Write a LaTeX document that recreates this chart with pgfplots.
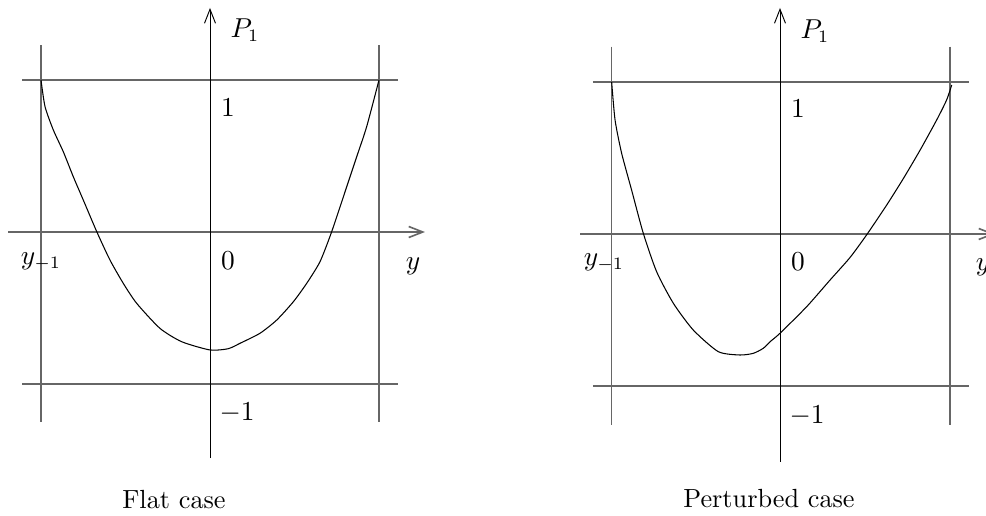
\documentclass[border=0pt]{standalone}
\usepackage{pgfplots}
\pgfplotsset{compat=1.18}
\usetikzlibrary{arrows.meta}

\pgfplotsset{
  sketch/.style={
    hide axis, clip=false, anchor=origin,
    x=67.6pt, y=60.8pt,
    xmin=-1.2, xmax=1.3, ymin=-1.5, ymax=1.5,
  },
  frame line/.style={black!60, line width=0.65pt},
  axis arrow/.style={-{Straight Barb[length=5.6pt,width=4.4pt]}},
  curve/.style={black, line width=0.42pt, smooth, tension=0.4},
}

\begin{document}
\begin{tikzpicture}[font=\fontsize{10.5}{12.6}\selectfont]
\useasboundingbox (0pt,0pt) rectangle (394.4pt,-206.4pt);

% ---------- flat case ----------
\begin{axis}[sketch, at={(84pt,-92.8pt)}]
  \addplot[frame line] coordinates {(-1.112,1) (1.112,1)};
  \addplot[frame line] coordinates {(-1.112,-1) (1.112,-1)};
  \addplot[frame line] coordinates {(-1,1.23) (-1,-1.25)};
  \addplot[frame line] coordinates {(1,1.23) (1,-1.25)};
  \addplot[frame line, axis arrow] coordinates {(-1.195,0) (1.272,0)};
  \addplot[black, line width=0.38pt, axis arrow] coordinates {(0,-1.487) (0,1.474)};
  \addplot[curve] coordinates {
    (-1,1) (-0.976,0.824) (-0.927,0.671) (-0.868,0.528) (-0.809,0.364)
    (-0.750,0.211) (-0.670,0.002) (-0.592,-0.184) (-0.513,-0.338)
    (-0.434,-0.469) (-0.296,-0.634) (-0.167,-0.722) (0,-0.776)
    (0.107,-0.768) (0.178,-0.732) (0.296,-0.666) (0.395,-0.579)
    (0.493,-0.459) (0.572,-0.338) (0.651,-0.195) (0.720,0.002)
    (0.809,0.298) (0.868,0.495) (0.927,0.693) (1,1)};
  \node at (axis cs:0.207,1.329) {$P_1$};
  \node at (axis cs:0.107,0.816) {$1$};
  \node at (axis cs:0.107,-0.191) {$0$};
  \node at (axis cs:0.160,-1.191) {$-1$};
  \node at (axis cs:1.201,-0.224) {$y$};
  \node at (axis cs:-1,-0.197) {$y_{-1}$};
  \node at (axis cs:-0.213,-1.757) {Flat case};
\end{axis}

% ---------- perturbed case ----------
\begin{axis}[sketch, at={(312pt,-93.6pt)}]
  \addplot[frame line] coordinates {(-1.107,1) (1.118,1)};
  \addplot[frame line] coordinates {(-1.107,-1) (1.118,-1)};
  \addplot[frame line] coordinates {(-0.996,1.232) (-0.996,-1.257)};
  \addplot[frame line] coordinates {(1.006,1.232) (1.006,-1.257)};
  \addplot[frame line, axis arrow] coordinates {(-1.183,0) (1.272,0)};
  \addplot[black, line width=0.38pt, axis arrow] coordinates {(0,-1.498) (0,1.487)};
  \addplot[curve] coordinates {
    (-0.996,1) (-0.976,0.75) (-0.937,0.531) (-0.878,0.289) (-0.809,0.005)
    (-0.730,-0.248) (-0.631,-0.456) (-0.513,-0.632) (-0.365,-0.774)
    (-0.237,-0.796) (-0.158,-0.785) (-0.099,-0.752) (-0.059,-0.709)
    (0,-0.653) (0.158,-0.478) (0.296,-0.303) (0.414,-0.155) (0.513,-0.005)
    (0.631,0.190) (0.730,0.365) (0.828,0.550) (0.927,0.750)
    (0.986,0.882) (1.016,0.980)};
  \node at (axis cs:0.207,1.336) {$P_1$};
  \node at (axis cs:0.107,0.822) {$1$};
  \node at (axis cs:0.107,-0.184) {$0$};
  \node at (axis cs:0.160,-1.197) {$-1$};
  \node at (axis cs:1.201,-0.217) {$y$};
  \node at (axis cs:-1.041,-0.191) {$y_{-1}$};
  \node at (axis cs:-0.065,-1.743) {Perturbed case};
\end{axis}
\end{tikzpicture}
\end{document}
